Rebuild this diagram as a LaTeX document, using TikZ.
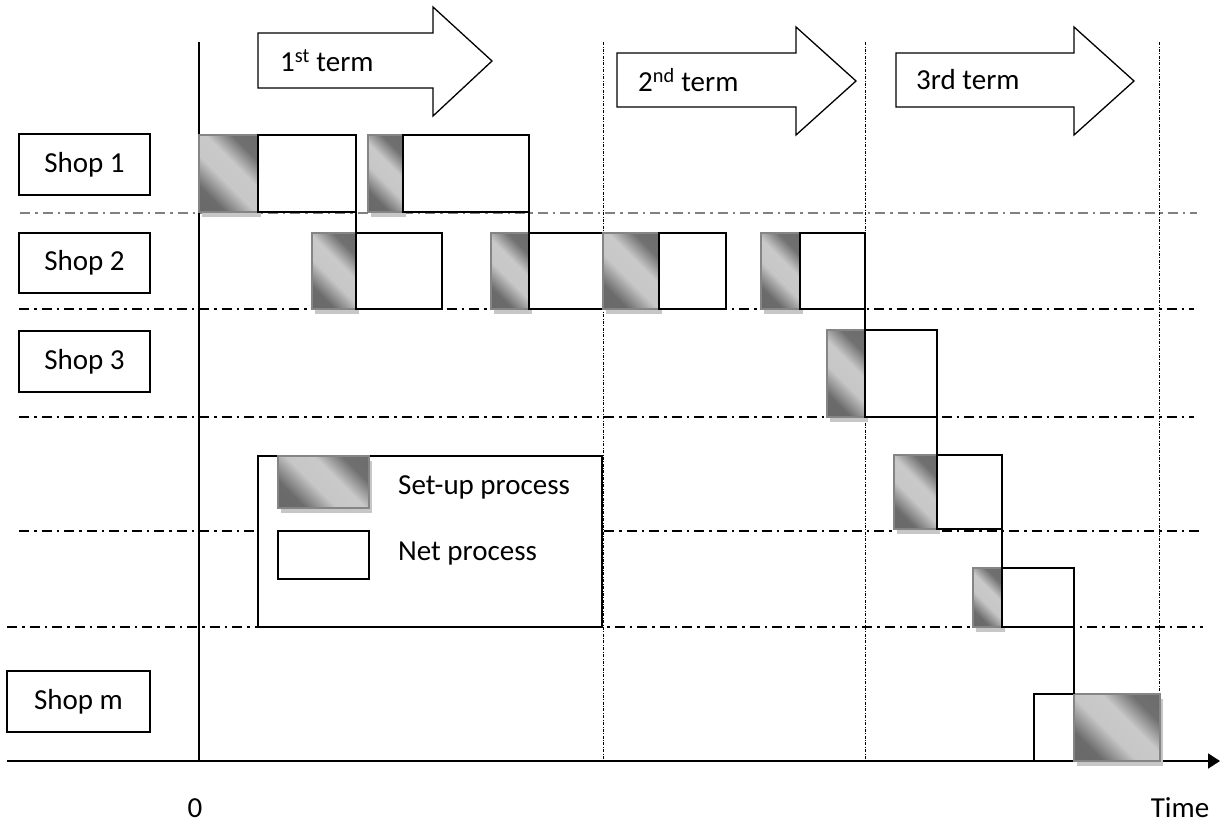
\documentclass[tikz,border=0pt]{standalone}
\usepackage{fontspec}
\setmainfont{Carlito}
\usetikzlibrary{arrows.meta,shadows}
\pgfdeclarehorizontalshading{setshade}{100bp}{color(0bp)=(black!60); color(28bp)=(black!58); color(44bp)=(black!22); color(58bp)=(black!21); color(72bp)=(black!56); color(100bp)=(black!60)}
\newcommand\pbox[6]{\node[#2, minimum width={(#5-#3)*1pt}, minimum height={(#6-#4)*1pt}] (#1) at ({(#3+#5)/2},{(#4+#6)/2}) {};}
\newcommand\shopnode[6]{\node[shopbox, minimum width={(#4-#2)*1pt}, minimum height={(#5-#3)*1pt}] (#1) at ({(#2+#4)/2},{(#3+#5)/2}) {#6};}
\tikzset{
 bigfont/.style={font=\fontsize{29}{34}\selectfont},
 shopbox/.style={draw, line width=1.3pt, inner sep=0pt, bigfont},
 netbox/.style={draw=black, line width=2pt, fill=white, inner sep=0pt, outer sep=0pt},
 setbox/.style={draw=black!48, line width=2pt, inner sep=0pt, outer sep=0pt,
   shading=setshade, shading angle=45,
   general shadow={fill=black!22, shadow xshift=3pt, shadow yshift=-5pt}},
 rowline/.style={line width=1.3pt, dash pattern=on 10pt off 5pt on 2.5pt off 5pt},
 termline/.style={line width=0.7pt, dash pattern=on 3pt off 1.5pt on 0.8pt off 1.5pt},
 termarrow/.style={draw, line width=1.3pt, fill=white, line join=miter},
 lbl/.style={bigfont, inner sep=0pt, anchor=west},
 link/.style={line width=2pt},
}
\begin{document}
\begin{tikzpicture}[x=1pt,y=-1pt]
\useasboundingbox (0,0) rectangle (1220,825);

% term separators
\foreach \xx/\nm in {603/a,865/b,1159/c}{
  \coordinate (t\nm top) at (\xx,42);
  \coordinate (t\nm bot) at (\xx,761);
  \draw[termline] (t\nm top) -- (t\nm bot);
}

% row separators
\coordinate (r1a) at (20,213);  \coordinate (r1b) at (1197,213);
\coordinate (r2a) at (19,309);  \coordinate (r2b) at (1194,309);
\coordinate (r3a) at (19,417);  \coordinate (r3b) at (1194,417);
\coordinate (r4a) at (19,531);  \coordinate (r4b) at (1200,531);
\coordinate (r5a) at (7,627);   \coordinate (r5b) at (1203,627);
\draw[rowline, draw=black!50, line width=2.5pt] (r1a) -- (r1b);
\draw[rowline] (r2a) -- (r2b);
\draw[rowline] (r3a) -- (r3b);
\draw[rowline] (r4a) -- (r4b);
\draw[rowline] (r5a) -- (r5b);

% axes
\coordinate (ytop) at (199,42);
\coordinate (origin) at (199,761);
\coordinate (xleft) at (7,761);
\coordinate (xright) at (1220,761);
\draw[line width=1.3pt] (ytop) -- (origin);
\draw[line width=1.8pt, -{Triangle[length=12pt,width=15pt]}] (xleft) -- (xright);
\node[bigfont, inner sep=0pt] (zero) at (195,808) {0};
\node[bigfont, inner sep=0pt] (time) at (1180,808) {Time};

% term arrows
\draw[termarrow] (258,33) -- (433,33) -- (433,7) -- (492,61) -- (433,116) -- (433,88) -- (258,88) -- cycle;
\node[lbl] (term1) at (280,61) {1\textsuperscript{st} term};
\draw[termarrow] (617,53) -- (796,53) -- (796,27) -- (856,81) -- (796,135) -- (796,107) -- (617,107) -- cycle;
\node[lbl] (term2) at (638,80) {2\textsuperscript{nd} term};
\draw[termarrow] (896,53) -- (1074,53) -- (1074,27) -- (1134,81) -- (1074,135) -- (1074,107) -- (896,107) -- cycle;
\node[lbl] (term3) at (916,80) {3rd term};

% shop labels
\shopnode{shop1}{19}{134}{150}{195}{Shop 1}
\shopnode{shop2}{19}{233}{150}{293}{Shop 2}
\shopnode{shop3}{19}{331}{150}{392}{Shop 3}
\shopnode{shopm}{7}{671}{150}{732}{Shop m}

% legend
\pbox{legend}{draw, line width=1.3pt, fill=white, inner sep=0pt}{258}{456}{602}{627}
\pbox{legset}{setbox}{278}{456}{369}{508}
\pbox{legnet}{netbox, line width=1.6pt}{278}{531}{369}{579}
\node[lbl] (legsettxt) at (398,487) {Set-up process};
\node[lbl] (legnettxt) at (398,554) {Net process};

% row 1
\pbox{s11}{setbox}{199}{135}{258}{212}
\pbox{n11}{netbox}{258}{135}{356}{212}
\pbox{s12}{setbox}{368}{135}{403}{212}
\pbox{n12}{netbox}{403}{135}{529}{212}
% row 2
\pbox{s21}{setbox}{312}{233}{356}{309}
\pbox{n21}{netbox}{356}{233}{442}{309}
\pbox{s22}{setbox}{491}{233}{529}{309}
\pbox{n22}{netbox}{529}{233}{603}{309}
\pbox{s23}{setbox}{603}{233}{659}{309}
\pbox{n23}{netbox}{659}{233}{726}{309}
\pbox{s24}{setbox}{761}{233}{800}{309}
\pbox{n24}{netbox}{800}{233}{865}{309}
% row 3
\pbox{s31}{setbox}{827}{330}{865}{417}
\pbox{n31}{netbox}{865}{330}{937}{417}
% row 4
\pbox{s41}{setbox}{894}{455}{937}{529}
\pbox{n41}{netbox}{937}{455}{1002}{529}
% row 5
\pbox{s51}{setbox}{973}{568}{1002}{627}
\pbox{n51}{netbox}{1002}{568}{1074}{627}
% row m
\pbox{nm}{netbox}{1034}{694}{1074}{761}
\pbox{sm}{setbox}{1074}{694}{1160}{761}

% links
\draw[link] (n11.south east) -- (n21.north west);
\draw[link] (n12.south east) -- (n22.north west);
\draw[link] (n24.south east) -- (n31.north west);
\draw[link] (n31.south east) -- (n41.north west);
\draw[link] (n41.south east) -- (n51.north west);
\draw[link] (n51.south east) -- (sm.north west);
\end{tikzpicture}
\end{document}
